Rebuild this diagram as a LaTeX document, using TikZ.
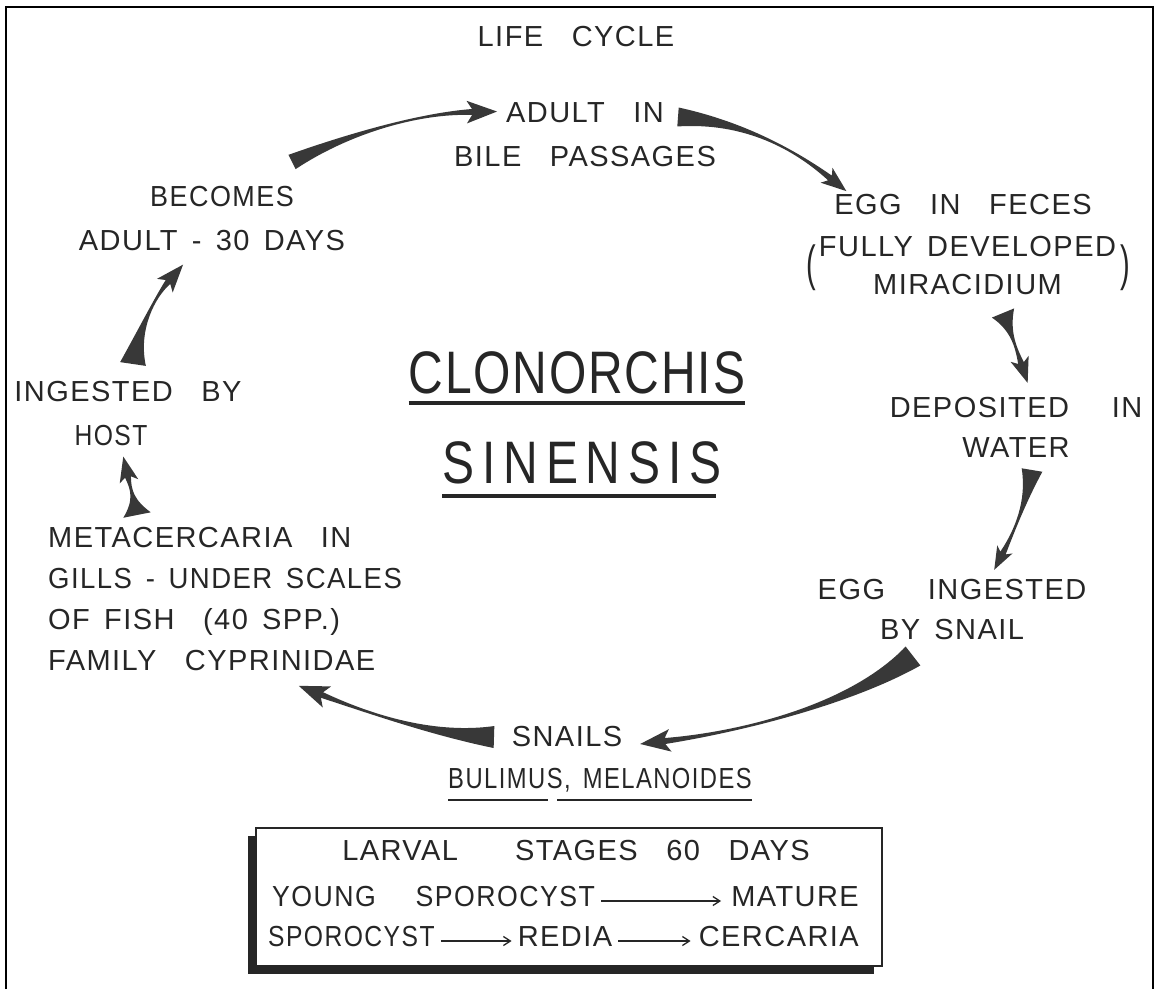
\documentclass[tikz,border=0pt]{standalone}
\usepackage{fontspec}
\newfontfamily\handfont{Liberation Sans}[LetterSpace=5,WordSpace=1.5]
\newfontfamily\titlefont{Liberation Sans}[FakeStretch=0.8,LetterSpace=3]
\usetikzlibrary{arrows.meta,positioning,calc,shadows}
\definecolor{inkc}{HTML}{262626}
\definecolor{arrowc}{HTML}{383838}

% tapered cycle arrow: start, control 1, control 2, neck, tail half width, head length
\newcommand{\fatarrow}[6]{%
  \pgfmathsetlengthmacro\barblen{0.5*#6}%
  \fill[arrowc] ($(#1)!#5!90:(#2)$) .. controls (#2) and (#3) .. ($(#4)!3pt!-90:(#3)$)
    -- ($(#4)!\barblen!-65:(#3)$) -- ($(#4)!#6!180:(#3)$) -- ($(#4)!\barblen!65:(#3)$)
    -- ($(#4)!3pt!90:(#3)$) .. controls (#3) and (#2) .. ($(#1)!#5!-90:(#2)$) -- cycle;}
% narrower lettering
\newcommand{\narrow}[1]{\addfontfeature{FakeStretch=#1}}

\begin{document}
\begin{tikzpicture}[x=1pt, y=-1pt,
  lbl/.style={font=\handfont\fontsize{29}{44}\selectfont, text=inkc, inner sep=0pt, align=center},
  lbl40/.style={lbl, font=\handfont\fontsize{29}{40}\selectfont},
  ttl/.style={font=\titlefont\fontsize{60}{60}\selectfont, text=inkc, inner sep=0pt},
  thinarr/.style={-{Straight Barb[length=7pt,width=9pt]}, line width=1.3pt, draw=inkc},
  uline/.style={draw=inkc, line width=2.5pt}
]
\useasboundingbox (0,0) rectangle (1159,989);
\draw[line width=2.2pt] (6,989) -- (6,7) -- (1153,7) -- (1153,989);

% cycle labels
\node[lbl] (lifecycle) at (576,37) {LIFE\ \ CYCLE};
\node[lbl] (adult) at (585,135) {ADULT\ \ IN\\BILE\ \ PASSAGES};
\node[lbl] (egg) at (963,205) {EGG\ \ IN\ \ FECES};
\node[lbl, font=\handfont\fontsize{29}{38}\selectfont] (mira) at (968,268)
  {$\vcenter{\hbox{\scalebox{1}[1.7]{(}}}$\hspace{3pt}\begin{tabular}{@{}c@{}}FULLY DEVELOPED\\MIRACIDIUM\end{tabular}\hspace{4pt}$\vcenter{\hbox{\scalebox{1}[1.7]{)}}}$};
\node[lbl40] (water) at (1016,427) {DEPOSITED\ \ \ IN\\WATER};
\node[lbl40] (snailegg) at (952,610) {EGG\ \ \ INGESTED\\BY SNAIL};
\node[lbl] (snails) at (567,737) {SNAILS};
\node[lbl, font=\handfont\fontsize{29}{44}\selectfont\narrow{0.82}] (genera) at (600,780) {BULIMUS, MELANOIDES};
\node[lbl, font=\handfont\fontsize{29}{41}\selectfont, align=left, anchor=west] (meta) at (48,599)
  {METACERCARIA\ \ IN\\{\narrow{0.95}GILLS - UNDER SCALES}\\OF FISH\ \ (40 SPP.)\\FAMILY\ \ CYPRINIDAE};
\node[lbl] (host) at (128,414) {INGESTED\ \ BY\\{\narrow{0.85}HOST}\hspace*{34pt}};
\node[lbl] (becomes) at (212,219) {\hspace*{20pt}{\narrow{0.93}BECOMES}\\ADULT - 30 DAYS};

% title
\node[ttl] (clon) at (577,373) {CLONORCHIS};
\node[ttl, font=\titlefont\fontsize{60}{60}\selectfont\addfontfeature{LetterSpace=13}] (sin) at (582,463) {SINENSIS};
\draw[uline, line width=4pt] ($(clon.south west)+(0,9)$) -- ($(clon.south east)+(0,9)$);
\draw[uline, line width=4pt] ($(sin.south west)+(0,12)$) -- ($(sin.south east)+(-6,12)$);
\draw[uline] ($(genera.south west)+(0,8)$) -- ++(100,0);
\draw[uline] ($(genera.south east)+(0,8)$) -- ++(-195,0);

% cycle arrows
\coordinate (a1s) at ($(becomes)+(80,-57)$);
\coordinate (a1e) at ($(adult)+(-113,-23)$);
\coordinate (a2s) at ($(adult)+(93,-18)$);
\coordinate (a2e) at ($(egg)+(-133,-27)$);
\coordinate (a3s) at ($(mira)+(35,45)$);
\coordinate (a3e) at ($(water)+(5,-64)$);
\coordinate (a4s) at ($(water)+(16,43)$);
\coordinate (a4e) at ($(snailegg)+(51,-57)$);
\coordinate (a5s) at ($(snailegg)+(-39,46)$);
\coordinate (a5e) at ($(snails)+(98,4)$);
\coordinate (a6s) at ($(snails)+(-73,0)$);
\coordinate (a6e) at ($(meta.west)+(274,96)$);
\coordinate (a7s) at ($(meta.north west)+(89,-12)$);
\coordinate (a7e) at ($(host)+(0,63)$);
\coordinate (a8s) at ($(host)+(5,-50)$);
\coordinate (a8e) at ($(becomes)+(-44,63)$);
\fatarrow{a1s}{350,133}{420,113}{a1e}{8pt}{25pt}
\fatarrow{a2s}{745,122}{795,150}{a2e}{9.5pt}{21pt}
\fatarrow{a3s}{1010,330}{1015,345}{a3e}{12pt}{21pt}
\fatarrow{a4s}{1027,500}{1015,530}{a4e}{10.5pt}{19pt}
\fatarrow{a5s}{850,705}{740,732}{a5e}{12pt}{25pt}
\fatarrow{a6s}{430,735}{365,712}{a6e}{11pt}{25pt}
\fatarrow{a7s}{134,500}{131,490}{a7e}{14pt}{21pt}
\fatarrow{a8s}{138,330}{155,297}{a8e}{13pt}{23pt}

% larval stages box
\node[draw=inkc, line width=1.5pt, fill=white, minimum width=626, minimum height=138,
  drop shadow={shadow xshift=-8pt, shadow yshift=-8pt, opacity=1, fill=inkc}] (stagebox) at (569,897) {};
\node[lbl] (larval) at (576,851) {LARVAL\ \ \ \ STAGES\ \ 60\ \ DAYS};
\node[lbl, anchor=west, font=\handfont\fontsize{29}{44}\selectfont\narrow{0.92}] (young) at (272,897) {YOUNG\ \ \ SPOROCYST};
\node[lbl, anchor=east] (mature) at (859,897) {MATURE};
\node[lbl, anchor=west, font=\handfont\fontsize{29}{44}\selectfont\narrow{0.85}] (spor) at (268,937) {SPOROCYST};
\node[lbl] (redia) at (565,937) {REDIA};
\node[lbl, anchor=east] (cerc) at (859,937) {CERCARIA};
\draw[thinarr] ($(young.east)+(6,4)$) -- ($(mature.west)+(-10,4)$);
\draw[thinarr] ($(spor.east)+(6,4)$) -- ($(redia.west)+(-6,4)$);
\draw[thinarr] ($(redia.east)+(6,4)$) -- ($(cerc.west)+(-8,4)$);

\end{tikzpicture}
\end{document}
